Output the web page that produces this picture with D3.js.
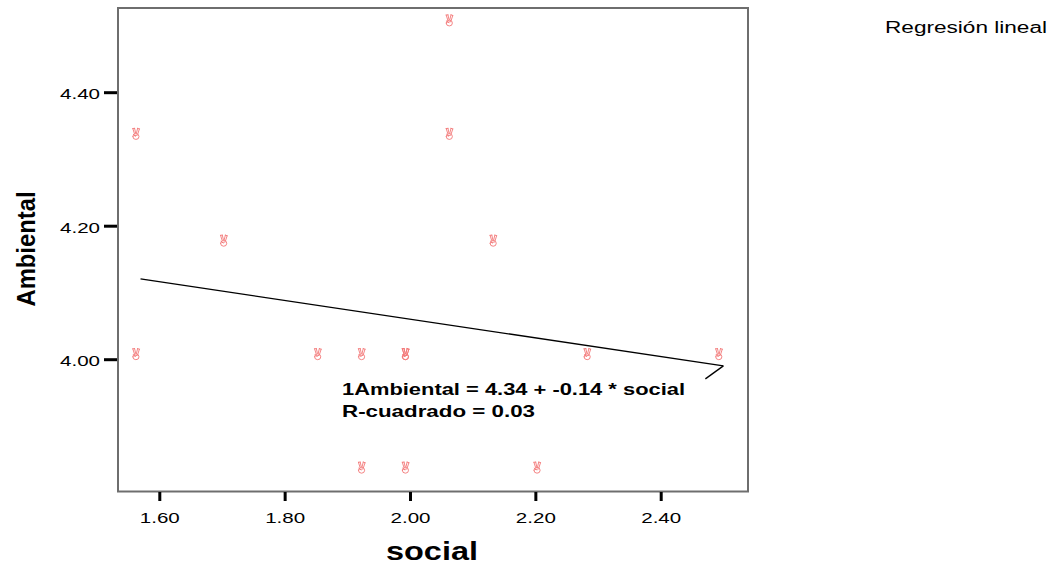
<!DOCTYPE html>
<html>
<head>
<meta charset="utf-8">
<script src="https://cdn.jsdelivr.net/npm/d3@7"></script>
<style>
  html, body { margin: 0; padding: 0; background: #fff; }
  svg { display: block; font-family: "Liberation Sans", Arial, sans-serif; }
</style>
</head>
<body>
<svg id="chart" width="1051" height="564"></svg>
<script>
// ---- data ----
const socialVals    = [1.57, 1.57, 1.71, 1.86, 1.93, 1.93, 2.00, 2.00, 2.00, 2.07, 2.07, 2.14, 2.21, 2.29, 2.50];
const ambientalVals = [4.33, 4.00, 4.17, 4.00, 4.00, 3.83, 4.00, 4.00, 3.83, 4.50, 4.33, 4.17, 3.83, 4.00, 4.00];
const xTicks = [1.60, 1.80, 2.00, 2.20, 2.40];
const yTicks = [4.00, 4.20, 4.40];
const intercept = 4.34;
const slope = -0.14;
const fitRange = [1.57, 2.50];
const eqLine1 = "1Ambiental = 4.34 + -0.14 * social";
const eqLine2 = "R-cuadrado = 0.03";
const xTitle = "social";
const yTitle = "Ambiental";
const legendTitle = "Regresión lineal";

const svg = d3.select("#chart");

const frame = {left: 118, top: 8, right: 748, bottom: 491.5};
const x = d3.scaleLinear().domain([1.6, 2.4]).range([159.3, 660.7]);
const y = d3.scaleLinear().domain([4.0, 4.4]).range([359.2, 92.2]);

// frame
svg.append("rect")
  .attr("x", frame.left).attr("y", frame.top)
  .attr("width", frame.right - frame.left).attr("height", frame.bottom - frame.top)
  .attr("fill", "none").attr("stroke", "#6e6e6e").attr("stroke-width", 2);

// axes
const fmt = d3.format(".2f");
const xAxis = svg.append("g").attr("transform", `translate(0,${frame.bottom + 0.5})`)
  .call(d3.axisBottom(x).tickValues(xTicks).tickFormat(fmt).tickSize(9).tickPadding(8));
const yAxis = svg.append("g").attr("transform", `translate(${frame.left - 1},0)`)
  .call(d3.axisLeft(y).tickValues(yTicks).tickFormat(fmt).tickSize(13).tickPadding(4));
[xAxis, yAxis].forEach(a => {
  a.select(".domain").remove();
  a.selectAll(".tick line").attr("stroke", "#000").attr("stroke-width", 3);
  a.selectAll(".tick text")
    .attr("fill", "#000").style("font-size", "15px")
    .style("font-family", "'Liberation Sans', Arial, sans-serif")
    .attr("textLength", 40).attr("lengthAdjust", "spacingAndGlyphs");
});
xAxis.selectAll(".tick text").attr("dy", "0.95em");
yAxis.selectAll(".tick text").attr("dy", "0.45em");

// axis titles
svg.append("text")
  .attr("x", 432).attr("y", 560)
  .attr("text-anchor", "middle")
  .style("font-size", "25px").style("font-weight", "bold")
  .attr("textLength", 92).attr("lengthAdjust", "spacingAndGlyphs")
  .text(xTitle);

svg.append("text")
  .attr("transform", "translate(35,249) rotate(-90)")
  .attr("text-anchor", "middle")
  .style("font-size", "25px").style("font-weight", "bold")
  .attr("textLength", 115).attr("lengthAdjust", "spacingAndGlyphs")
  .text(yTitle);

// legend title
svg.append("text")
  .attr("x", 885).attr("y", 33)
  .style("font-size", "16px")
  .attr("textLength", 162).attr("lengthAdjust", "spacingAndGlyphs")
  .text(legendTitle);

// regression line
const fitData = fitRange.map(v => [v, intercept + slope * v]);
svg.append("path")
  .datum(fitData)
  .attr("d", d3.line().x(d => x(d[0])).y(d => y(d[1])))
  .attr("fill", "none").attr("stroke", "#000").attr("stroke-width", 1.3);

// leader from line end to the equation label
const endPt = fitData[1];
svg.append("path")
  .attr("d", `M${x(endPt[0])},${y(endPt[1])} L${x(endPt[0]) - 18},${y(endPt[1]) + 13}`)
  .attr("fill", "none").attr("stroke", "#000").attr("stroke-width", 1.3);

// points: small victory-hand outline marker
const handPath =
  "M-3.2,-5.6 L-1.6,-0.6 M-1.4,-5.8 L-0.4,-1.2 " +   // left finger
  "M-3.2,-5.6 L-1.4,-5.8 " +
  "M1.6,-5.8 L0.4,-0.8 M3.4,-5.2 L1.8,-0.2 " +        // right finger
  "M1.6,-5.8 L3.4,-5.2 " +
  "M-3.2,2.4 A3.1,2.9 0 1,0 3.0,2.4 A3.1,2.9 0 1,0 -3.2,2.4 " + // fist
  "M-1.8,1.6 L1.4,1.0 M-2.6,0.2 L-0.6,2.2";           // thumb / knuckles
svg.append("g").selectAll("path")
  .data(socialVals.map((s, i) => [s, ambientalVals[i]]))
  .join("path")
  .attr("transform", d => `translate(${x(d[0]) - 4.5},${y(d[1]) - 4.8})`)
  .attr("d", handPath)
  .attr("fill", "none")
  .attr("stroke", "#f37777")
  .attr("stroke-width", 0.9)
  .attr("stroke-linecap", "round");

// equation text
svg.append("text")
  .attr("x", 342).attr("y", 394.5)
  .style("font-size", "16.5px").style("font-weight", "bold")
  .attr("textLength", 343).attr("lengthAdjust", "spacingAndGlyphs")
  .text(eqLine1);
svg.append("text")
  .attr("x", 342).attr("y", 416.5)
  .style("font-size", "16.5px").style("font-weight", "bold")
  .attr("textLength", 193).attr("lengthAdjust", "spacingAndGlyphs")
  .text(eqLine2);
</script>
</body>
</html>
